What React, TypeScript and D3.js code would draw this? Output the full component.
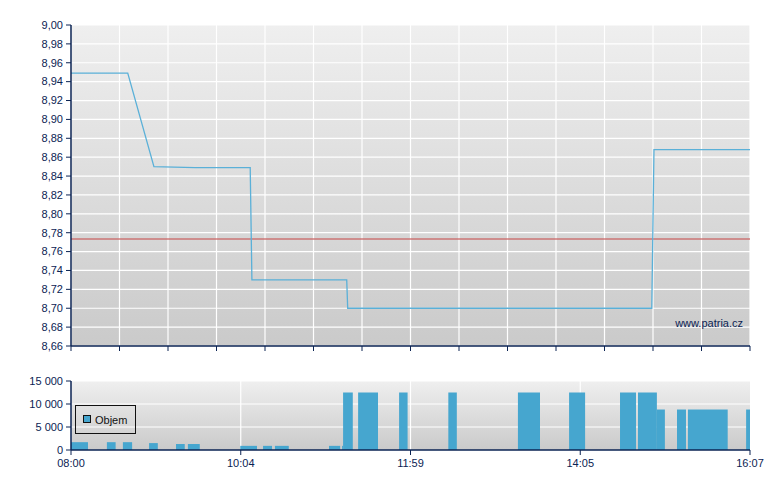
import React from "react";
import * as d3 from "d3";

// ---- data ----
const priceIdx = [0, 23.4, 34.2, 51.1, 73.9, 74.6, 113.7, 114.1, 239.5, 240.4, 280];
const priceVal = [8.949, 8.949, 8.85, 8.849, 8.849, 8.73, 8.73, 8.7, 8.7, 8.868, 8.868];
const prevClose = 8.7733;

const volStart = [0, 14.8, 21.4, 32.2, 43.3, 48.2, 69.8, 79.2, 84.1, 106.4, 111.8, 112.2, 118.4, 135.3, 155.6, 184.3, 205.4, 226.4, 233.8, 241.6, 249.9, 254.4, 278.4];
const volEnd = [7.0, 18.4, 25.2, 35.8, 46.9, 53.1, 76.7, 82.9, 89.8, 111.0, 112.2, 116.2, 126.6, 138.8, 159.1, 193.4, 212.0, 233.0, 241.6, 244.9, 253.6, 270.8, 280];
const volValue = [1700, 1700, 1700, 1500, 1300, 1300, 900, 900, 900, 900, 900, 12500, 12500, 12500, 12500, 12500, 12500, 12500, 12500, 8800, 8800, 8800, 8800];

const priceTicks = [8.66, 8.68, 8.7, 8.72, 8.74, 8.76, 8.78, 8.8, 8.82, 8.84, 8.86, 8.88, 8.9, 8.92, 8.94, 8.96, 8.98, 9.0];
const topGridIdx = [0, 20, 40, 60, 80, 100, 120, 140, 160, 180, 200, 220, 240, 260, 280];
const timeIdx = [0, 70, 140, 210, 280];
const timeLabels = ["08:00", "10:04", "11:59", "14:05", "16:07"];
const volTicks = [0, 5000, 10000, 15000];
const volTickLabels = ["0", "5 000", "10 000", "15 000"];
const legendLabel = "Objem";
const watermark = "www.patria.cz";

const NAVY = "#0b2353";
const BAR = "#46a6cf";
const LINE = "#5ab0d8";
const FONT = "Arial, 'Liberation Sans', sans-serif";

export default function App() {
  const x = d3.scaleLinear().domain([0, 280]).range([71, 750]);
  const yP = d3.scaleLinear().domain([8.66, 9.0]).range([346, 25]);
  const yV = d3.scaleLinear().domain([0, 15000]).range([450, 381]);

  const line = d3
    .line<number>()
    .x((_, i) => x(priceIdx[i]))
    .y((d) => yP(d));

  const fmt = (v: number) => v.toFixed(2).replace(".", ",");

  return (
    <svg
      width={780}
      height={490}
      style={{ position: "absolute", left: 0, top: 0, fontFamily: FONT }}
    >
      <defs>
        <linearGradient id="bgTop" x1="0" y1="0" x2="0" y2="1">
          <stop offset="0" stopColor="#efefef" />
          <stop offset="1" stopColor="#cacaca" />
        </linearGradient>
        <linearGradient id="bgBot" x1="0" y1="0" x2="0" y2="1">
          <stop offset="0" stopColor="#efefef" />
          <stop offset="1" stopColor="#cacaca" />
        </linearGradient>
      </defs>
      <rect x={0} y={0} width={780} height={490} fill="#ffffff" />

      {/* ---- top chart ---- */}
      <rect x={x(0)} y={yP(9.0)} width={x(280) - x(0)} height={yP(8.66) - yP(9.0)} fill="url(#bgTop)" />
      {priceTicks.map((t) => (
        <line key={"hg" + t} x1={x(0)} x2={x(280)} y1={yP(t)} y2={yP(t)} stroke="#ffffff" strokeWidth={1.2} />
      ))}
      {topGridIdx.map((t) => (
        <line key={"vg" + t} x1={x(t)} x2={x(t)} y1={yP(9.0)} y2={yP(8.66)} stroke="#ffffff" strokeWidth={1.2} />
      ))}
      <line x1={x(0)} x2={x(280)} y1={yP(prevClose)} y2={yP(prevClose)} stroke="#c96464" strokeOpacity={0.85} strokeWidth={1.6} />
      <path d={line(priceVal) || ""} fill="none" stroke={LINE} strokeWidth={1.3} />
      <text x={743} y={327} textAnchor="end" fontSize={11} fill={NAVY}>{watermark}</text>

      {/* left axis */}
      <line x1={x(0)} x2={x(0)} y1={yP(9.0)} y2={yP(8.66)} stroke={NAVY} strokeWidth={1.5} />
      {priceTicks.map((t) => (
        <g key={"pt" + t}>
          <line x1={x(0) - 5} x2={x(0)} y1={yP(t)} y2={yP(t)} stroke={NAVY} strokeWidth={1} />
          <text x={x(0) - 8} y={yP(t)} dy="0.35em" textAnchor="end" fontSize={11} fill={NAVY}>
            {fmt(t)}
          </text>
        </g>
      ))}
      {/* bottom axis of top chart */}
      <line x1={x(0)} x2={x(280)} y1={yP(8.66)} y2={yP(8.66)} stroke={NAVY} strokeWidth={1.5} />
      {topGridIdx.map((t) => (
        <line key={"bt" + t} x1={x(t)} x2={x(t)} y1={yP(8.66)} y2={yP(8.66) + 5} stroke={NAVY} strokeWidth={1} />
      ))}

      {/* ---- bottom chart ---- */}
      <rect x={x(0)} y={yV(15000)} width={x(280) - x(0)} height={yV(0) - yV(15000)} fill="url(#bgBot)" />
      {volTicks.slice(1).map((t) => (
        <line key={"vh" + t} x1={x(0)} x2={x(280)} y1={yV(t)} y2={yV(t)} stroke="#ffffff" strokeWidth={1.2} />
      ))}
      {timeIdx.slice(1, -1).map((t) => (
        <line key={"vv" + t} x1={x(t)} x2={x(t)} y1={yV(15000)} y2={yV(0)} stroke="#ffffff" strokeWidth={1.2} />
      ))}
      {volValue.map((v, i) => (
        <rect
          key={"bar" + i}
          x={x(volStart[i])}
          y={yV(v)}
          width={x(volEnd[i]) - x(volStart[i])}
          height={yV(0) - yV(v)}
          fill={BAR}
        />
      ))}
      {/* legend */}
      <rect x={75.5} y={405.5} width={60} height={28} fill="none" stroke="#111111" strokeWidth={1} />
      <rect x={83.5} y={415.5} width={7} height={7} fill={BAR} stroke="#111111" strokeWidth={1} />
      <text x={95} y={424} fontSize={11} fill="#111111">{legendLabel}</text>

      {/* axes */}
      <line x1={x(0)} x2={x(0)} y1={yV(15000)} y2={yV(0)} stroke={NAVY} strokeWidth={1.5} />
      {volTicks.map((t, i) => (
        <g key={"vt" + t}>
          <line x1={x(0) - 5} x2={x(0)} y1={yV(t)} y2={yV(t)} stroke={NAVY} strokeWidth={1} />
          <text x={x(0) - 8} y={yV(t)} dy="0.35em" textAnchor="end" fontSize={11} fill={NAVY}>
            {volTickLabels[i]}
          </text>
        </g>
      ))}
      <line x1={x(0)} x2={x(280)} y1={yV(0)} y2={yV(0)} stroke={NAVY} strokeWidth={1.5} />
      {timeIdx.map((t, i) => (
        <g key={"tx" + t}>
          <line x1={x(t)} x2={x(t)} y1={yV(0)} y2={yV(0) + 5} stroke={NAVY} strokeWidth={1} />
          <text x={x(t)} y={467} textAnchor="middle" fontSize={11} fill={NAVY}>
            {timeLabels[i]}
          </text>
        </g>
      ))}
    </svg>
  );
}
